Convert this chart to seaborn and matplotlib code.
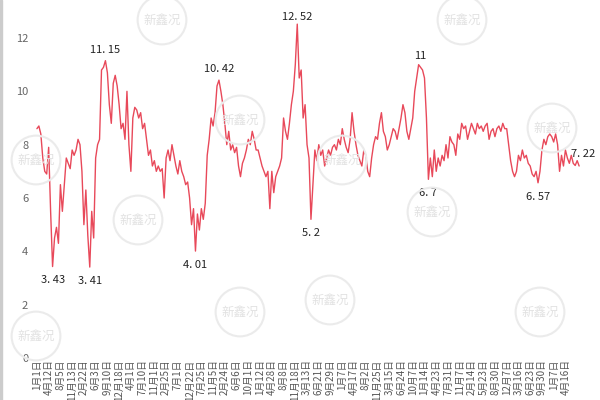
import numpy as np
import pandas as pd
import seaborn as sns
import matplotlib.pyplot as plt

#%% data
values = [8.6, 8.7, 8.4, 7.5, 7.0, 6.9, 7.9, 5.5, 3.43, 4.5, 4.9, 4.3, 6.5, 5.5, 6.5, 7.5, 7.3, 7.1, 7.8, 7.6,
          7.8, 8.2, 8.0, 7.0, 5.0, 6.3, 4.6, 3.41, 5.5, 4.5, 7.5, 8.0, 8.2, 10.8, 10.9, 11.15, 10.7, 9.5, 8.8, 10.3,
          10.6, 10.2, 9.5, 8.6, 8.8, 8.2, 10.0, 8.0, 7.0, 9.0, 9.4, 9.3, 9.0, 9.2, 8.6, 8.8, 8.2, 7.6, 7.8, 7.2,
          7.4, 7.0, 7.2, 7.0, 7.1, 6.0, 7.5, 7.8, 7.4, 8.0, 7.6, 7.2, 6.9, 7.4, 7.0, 6.8, 6.5, 6.6, 6.0, 5.0,
          5.6, 4.01, 5.4, 4.8, 5.6, 5.2, 5.8, 7.6, 8.2, 9.0, 8.7, 9.2, 10.2, 10.42, 10.0, 9.5, 8.8, 8.0, 8.5, 7.8,
          8.0, 7.7, 7.9, 7.2, 6.8, 7.3, 7.5, 7.8, 8.2, 8.0, 8.5, 8.2, 7.8, 7.8, 7.5, 7.2, 7.0, 6.8, 7.0, 5.6,
          7.0, 6.2, 6.8, 7.0, 7.2, 7.5, 9.0, 8.5, 8.2, 8.8, 9.5, 10.0, 11.0, 12.52, 10.5, 10.8, 9.0, 9.5, 8.0, 7.5,
          5.2, 6.5, 7.8, 7.4, 8.0, 7.6, 7.8, 7.2, 7.5, 7.8, 7.6, 7.9, 8.0, 7.8, 8.2, 8.0, 8.6, 8.2, 7.9, 7.7,
          8.2, 9.2, 8.5, 8.0, 7.6, 7.4, 7.2, 7.8, 7.6, 7.0, 6.8, 7.5, 8.0, 8.3, 8.2, 8.8, 9.2, 8.5, 8.3, 7.8,
          8.0, 8.3, 8.6, 8.5, 8.2, 8.6, 9.0, 9.5, 9.2, 8.5, 8.2, 8.6, 9.0, 10.0, 10.5, 11.0, 10.9, 10.8, 10.5, 9.0,
          6.7, 7.5, 6.8, 7.8, 7.0, 7.5, 7.2, 7.6, 7.4, 8.0, 7.5, 8.3, 8.1, 8.0, 7.6, 8.4, 8.2, 8.8, 8.6, 8.7,
          8.2, 8.5, 8.8, 8.6, 8.4, 8.8, 8.6, 8.7, 8.5, 8.7, 8.8, 8.2, 8.5, 8.6, 8.3, 8.6, 8.7, 8.5, 8.8, 8.6,
          8.6, 8.0, 7.4, 7.0, 6.8, 7.0, 7.6, 7.4, 7.8, 7.5, 7.6, 7.3, 7.2, 6.9, 6.8, 7.0, 6.57, 7.0, 7.8, 8.2,
          8.0, 8.3, 8.4, 8.3, 8.1, 8.4, 8.0, 7.0, 7.6, 7.2, 7.8, 7.5, 7.3, 7.6, 7.3, 7.22, 7.4, 7.2]

tick_labels = ['1月1日', '4月12日', '8月5日', '11月13日', '2月22日', '6月3日', '9月10日', '12月18日', '4月1日',
               '7月10日', '11月1日', '2月25日', '7月1日', '12月22日', '7月25日', '11月5日', '2月24日', '6月6日',
               '10月1日', '1月12日', '4月28日', '8月8日', '11月18日', '3月13日', '6月21日', '9月29日', '1月7日',
               '4月17日', '8月2日', '11月25日', '3月15日', '6月24日', '10月7日', '1月14日', '4月23日', '7月31日',
               '11月7日', '2月14日', '5月23日', '8月30日', '12月7日', '3月16日', '6月23日', '9月30日', '1月7日',
               '4月16日']

# labelled extremes: index into values, label text, offset in points
mark_idx = [8, 27, 35, 81, 93, 133, 140, 196, 200, 256, 275]
mark_txt = ['3. 43', '3. 41', '11. 15', '4. 01', '10. 42', '12. 52', '5. 2', '11', '6. 7', '6. 57', '7. 22']
mark_off = [(0, -10), (0, -10), (0, 8), (0, -10), (0, 8), (0, 5), (0, -10), (0, 8), (0, -10), (0, -10), (6, 8)]

df = pd.DataFrame({'i': np.arange(len(values)), 'v': values})

sns.set_style('white')
plt.rcParams['font.family'] = ['Noto Sans CJK SC', 'DejaVu Sans']

fig, ax = plt.subplots(figsize=(6, 4), dpi=100)
fig.subplots_adjust(left=0.055, right=0.975, top=0.985, bottom=0.105)

# watermarks
for wx, wy in [(0.27, 0.95), (0.77, 0.95), (0.23, 0.45), (0.72, 0.47), (0.40, 0.70), (0.92, 0.68),
               (0.06, 0.60), (0.57, 0.60), (0.40, 0.22), (0.90, 0.22), (0.06, 0.16), (0.55, 0.25)]:
    fig.text(wx, wy, '新鑫况', fontsize=9, color='#e2e2e2', ha='center', va='center', zorder=0,
             bbox=dict(boxstyle='circle,pad=0.45', fc='none', ec='#ebebeb', lw=1.5))

sns.lineplot(data=df, x='i', y='v', ax=ax, color='#e8495a', lw=1.0)

for idx, txt, off in zip(mark_idx, mark_txt, mark_off):
    ax.annotate(txt, (idx, values[idx]), xytext=off, textcoords='offset points',
                ha='center', va='center', fontsize=8, color='#222222')

ax.set_xlim(-2, len(values) + 2)
ax.set_ylim(0, 13.2)
ax.set_yticks([0, 2, 4, 6, 8, 10, 12])
ax.tick_params(axis='y', labelsize=8, colors='#666666', length=0)
pos = np.arange(len(tick_labels)) * 6
ax.set_xticks(pos)
ax.set_xticklabels(tick_labels, rotation=90, fontsize=7, color='#555555')
ax.tick_params(axis='x', length=0, pad=1)
ax.set_xlabel('')
ax.set_ylabel('')
for s in ['top', 'right', 'bottom', 'left']:
    ax.spines[s].set_visible(False)
fig.patches.append(plt.Rectangle((0.0, 0.0), 0.003, 1, transform=fig.transFigure, color='#cccccc'))

fig.savefig('out.png', dpi=100)
